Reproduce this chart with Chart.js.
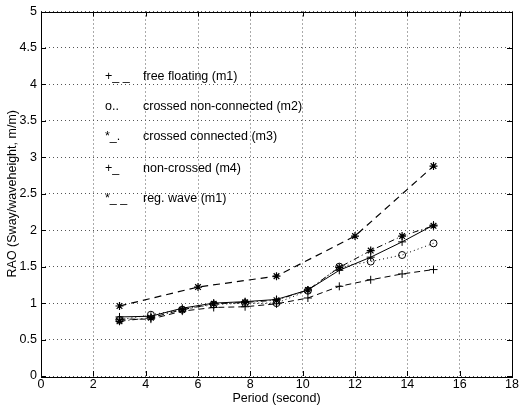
<!DOCTYPE html>
<html>
<head>
<meta charset="utf-8">
<script src="https://cdn.jsdelivr.net/npm/chart.js@4/dist/chart.umd.min.js"></script>
<style>
html,body{margin:0;padding:0;background:#fff;}
#wrap{width:520px;height:406px;}
</style>
</head>
<body>
<div id="wrap"><canvas id="c" width="520" height="406"></canvas></div>
<script>
const periods = [3, 4.2, 5.4, 6.6, 7.8, 9, 10.2, 11.4, 12.6, 13.8, 15];
const freeFloating = [0.78, 0.78, 0.89, 0.94, 0.95, 0.99, 1.07, 1.23, 1.32, 1.40, 1.46];
const crossedNonConnected = [0.77, 0.84, 0.91, 0.98, 1.00, 1.00, 1.17, 1.50, 1.57, 1.66, 1.82];
const crossedConnected = [0.75, 0.80, 0.91, 0.99, 1.01, 1.04, 1.18, 1.49, 1.72, 1.92, 2.06];
const nonCrossed = [0.81, 0.82, 0.93, 1.00, 1.02, 1.05, 1.18, 1.45, 1.63, 1.84, 2.07];
const regPeriods = [3, 6, 9, 12, 15];
const regWave = [0.96, 1.22, 1.37, 1.92, 2.88];
const xTicks = [0, 2, 4, 6, 8, 10, 12, 14, 16, 18];
const yTicks = [0, 0.5, 1, 1.5, 2, 2.5, 3, 3.5, 4, 4.5, 5];
const legendMarks = ['+_ _', 'o..', '*_.', '+_', '*_ _'];
const legendLabels = ['free floating (m1)', 'crossed non-connected (m2)', 'crossed connected (m3)', 'non-crossed (m4)', 'reg. wave (m1)'];

const pts = (xs, ys) => xs.map((x, i) => ({x: x, y: ys[i]}));
const FONT = '"Liberation Sans", Arial, Helvetica, sans-serif';

const frame = {
  id: 'frame',
  afterDatasetsDraw(chart) {
    const {ctx, chartArea: a, scales} = chart;
    ctx.save();
    ctx.strokeStyle = '#000';
    ctx.lineWidth = 1;
    ctx.setLineDash([]);
    ctx.strokeRect(Math.round(a.left) + 0.5, Math.round(a.top) + 0.5, Math.round(a.right - a.left), Math.round(a.bottom - a.top));
    ctx.beginPath();
    const tl = 5;
    xTicks.forEach(v => {
      const x = Math.round(scales.x.getPixelForValue(v)) + 0.5;
      ctx.moveTo(x, a.bottom); ctx.lineTo(x, a.bottom - tl);
      ctx.moveTo(x, a.top); ctx.lineTo(x, a.top + tl);
    });
    yTicks.forEach(v => {
      const y = Math.round(scales.y.getPixelForValue(v)) + 0.5;
      ctx.moveTo(a.left, y); ctx.lineTo(a.left + tl, y);
      ctx.moveTo(a.right, y); ctx.lineTo(a.right - tl, y);
    });
    ctx.stroke();
    // legend text
    ctx.fillStyle = '#000';
    ctx.font = '12.5px ' + FONT;
    ctx.textBaseline = 'middle';
    const rows = [75, 105, 135, 167, 197];
    rows.forEach((ry, i) => {
      const y = a.top + (ry - 10);
      ctx.fillText(legendMarks[i], a.left + 64, y);
      ctx.fillText(legendLabels[i], a.left + 102, y);
    });
    ctx.restore();
  }
};

new Chart(document.getElementById('c'), {
  type: 'scatter',
  data: {
    datasets: [
      {label: 'free floating (m1)', data: pts(periods, freeFloating), showLine: true, borderColor: '#000', backgroundColor: '#000', borderWidth: 1, borderDash: [6, 4], pointStyle: 'cross', pointRadius: 4, pointBorderWidth: 1},
      {label: 'crossed non-connected (m2)', data: pts(periods, crossedNonConnected), showLine: true, borderColor: '#000', backgroundColor: 'rgba(0,0,0,0)', borderWidth: 1, borderDash: [1, 3], pointStyle: 'circle', pointRadius: 3.5, pointBorderWidth: 1},
      {label: 'crossed connected (m3)', data: pts(periods, crossedConnected), showLine: true, borderColor: '#000', backgroundColor: '#000', borderWidth: 1, borderDash: [6, 3, 1, 3], pointStyle: 'star', pointRadius: 4, pointBorderWidth: 1.2},
      {label: 'non-crossed (m4)', data: pts(periods, nonCrossed), showLine: true, borderColor: '#000', backgroundColor: '#000', borderWidth: 1, pointStyle: 'cross', pointRadius: 4, pointBorderWidth: 1},
      {label: 'reg. wave (m1)', data: pts(regPeriods, regWave), showLine: true, borderColor: '#000', backgroundColor: '#000', borderWidth: 1.2, borderDash: [7, 5], pointStyle: 'star', pointRadius: 4, pointBorderWidth: 1.2}
    ]
  },
  options: {
    responsive: false,
    animation: false,
    devicePixelRatio: 1,
    layout: {padding: {left: 0, right: 8, top: 10, bottom: 0}},
    plugins: {legend: {display: false}, tooltip: {enabled: false}},
    elements: {line: {tension: 0}},
    scales: {
      x: {
        type: 'linear', min: 0, max: 18,
        afterBuildTicks: s => { s.ticks = xTicks.map(v => ({value: v})); },
        afterFit: s => { s.height = 30; },
        grid: {color: '#555', lineWidth: 1, drawTicks: false},
        border: {display: false, dash: [1, 3]},
        ticks: {color: '#000', font: {family: FONT, size: 12.5}, padding: 1, maxRotation: 0},
        title: {display: true, text: 'Period (second)', color: '#000', font: {family: FONT, size: 12.5}, padding: {top: 0, bottom: 0}}
      },
      y: {
        type: 'linear', min: 0, max: 5,
        afterBuildTicks: s => { s.ticks = yTicks.map(v => ({value: v})); },
        afterFit: s => { s.width = 41; },
        grid: {color: '#555', lineWidth: 1, drawTicks: false},
        border: {display: false, dash: [1, 3]},
        ticks: {color: '#000', font: {family: FONT, size: 12.5}, padding: 4, callback: v => String(v)},
        title: {display: true, text: 'RAO (Sway/waveheight, m/m)', color: '#000', font: {family: FONT, size: 12.5}, padding: {top: 5, bottom: 0}}
      }
    }
  },
  plugins: [frame]
});
</script>
</body>
</html>
